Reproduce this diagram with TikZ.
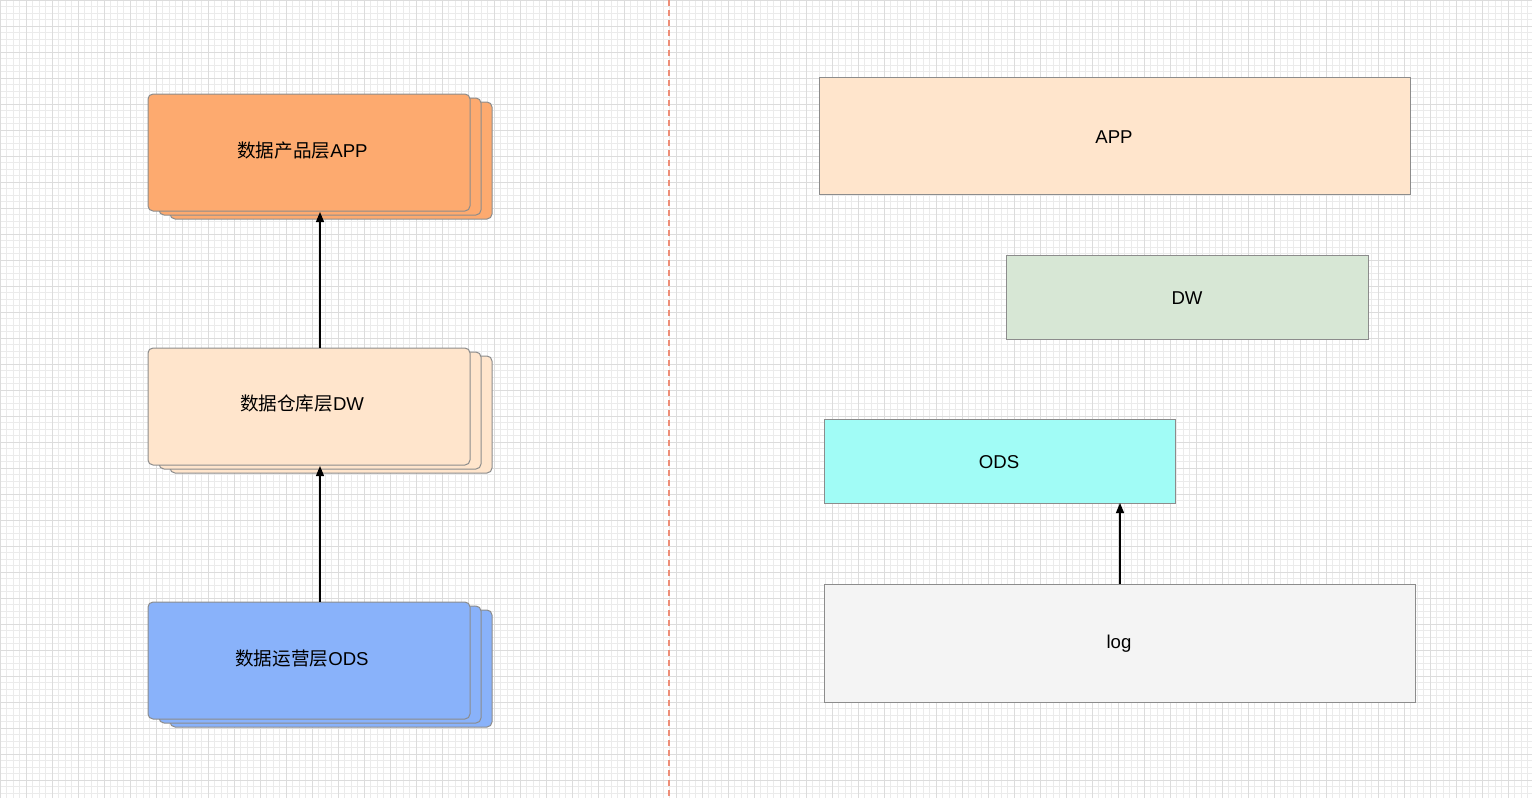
\documentclass[tikz,border=0pt]{standalone}
\usepackage{fontspec}
\setmainfont{Liberation Sans}
\newfontfamily\cjk{Noto Sans CJK SC}
\usetikzlibrary{arrows.meta}
\definecolor{gridminor}{HTML}{EBEBEB}
\definecolor{gridmajor}{HTML}{DCDCDC}
\definecolor{bordergray}{HTML}{8C8C8C}
\definecolor{appfill}{HTML}{FDAA6F}
\definecolor{dwfill}{HTML}{FFE5CC}
\definecolor{odsfill}{HTML}{89B2FA}
\definecolor{rdwfill}{HTML}{D7E7D5}
\definecolor{rodsfill}{HTML}{A1FCF6}
\definecolor{logfill}{HTML}{F4F4F4}
\definecolor{sepline}{HTML}{EE8E78}
\tikzset{
  x=1pt, y=-1pt,
  stackbox/.style={draw=bordergray, line width=1pt, rounded corners=5pt},
  flatbox/.style={draw=bordergray, line width=1pt},
  lbl/.style={font=\fontsize{18.6}{21}\selectfont, text=black, inner sep=0pt},
  conn/.style={-{Triangle[length=10pt,width=8pt]}, line width=1.2pt, black},
}
\begin{document}
\begin{tikzpicture}
\useasboundingbox (0,0) rectangle (1532,798);
\fill[white] (0,0) rectangle (1532,798);
% grid
\foreach \i in {0,...,236} {
  \pgfmathsetmacro{\p}{\i*6.5}
  \draw[gridminor, line width=0.7pt] (\p,0) -- (\p,798);
}
\foreach \i in {0,...,123} {
  \pgfmathsetmacro{\p}{\i*6.5}
  \draw[gridminor, line width=0.7pt] (0,\p) -- (1532,\p);
}
\foreach \i in {0,...,59} {
  \pgfmathsetmacro{\p}{\i*26}
  \draw[gridmajor, line width=0.9pt] (\p,0) -- (\p,798);
}
\foreach \i in {0,...,31} {
  \pgfmathsetmacro{\p}{\i*26}
  \draw[gridmajor, line width=0.9pt] (0,\p) -- (1532,\p);
}
% separator
\coordinate (sepTop) at (669,0);
\coordinate (sepBot) at (669,798);
\draw[sepline, line width=1.2pt, dash pattern=on 6pt off 4pt] (sepTop) -- (sepBot);

% left stacks
% APP stack
\draw[stackbox, fill=appfill] (170,102) rectangle (492,219);
\draw[stackbox, fill=appfill] (159,98) rectangle (481,215);
\draw[stackbox, fill=appfill] (148,94) rectangle (470,211);
\node[lbl] (lapp) at (302.5,151) {{\cjk 数据产品层}APP};
\coordinate (lappB) at (320,212);
% DW stack
\draw[stackbox, fill=dwfill] (170,356) rectangle (492,473);
\draw[stackbox, fill=dwfill] (159,352) rectangle (481,469);
\draw[stackbox, fill=dwfill] (148,348) rectangle (470,465);
\node[lbl] (ldw) at (302,404) {{\cjk 数据仓库层}DW};
\coordinate (ldwT) at (320,348);
\coordinate (ldwB) at (320,466);
% ODS stack
\draw[stackbox, fill=odsfill] (170,610) rectangle (492,727);
\draw[stackbox, fill=odsfill] (159,606) rectangle (481,723);
\draw[stackbox, fill=odsfill] (148,602) rectangle (470,719);
\node[lbl] (lods) at (302,658) {{\cjk 数据运营层}ODS};
\coordinate (lodsT) at (320,602);

\draw[conn] (lodsT) -- (ldwB);
\draw[conn] (ldwT) -- (lappB);

% right side
\draw[flatbox, fill=dwfill] (819,77) rectangle (1410,194);
\node[lbl] (rapp) at (1114,137) {APP};
\draw[flatbox, fill=rdwfill] (1006,255) rectangle (1368,339);
\node[lbl] (rdw) at (1187,298) {DW};
\draw[flatbox, fill=rodsfill] (824,419) rectangle (1175,503);
\node[lbl] (rods) at (999,462) {ODS};
\draw[flatbox, fill=logfill] (824,584) rectangle (1415,702);
\node[lbl] (rlog) at (1119,644) {log};
\coordinate (rlogT) at (1120,584);
\coordinate (rodsB) at (1120,503);
\draw[conn] (rlogT) -- (rodsB);
\end{tikzpicture}
\end{document}
